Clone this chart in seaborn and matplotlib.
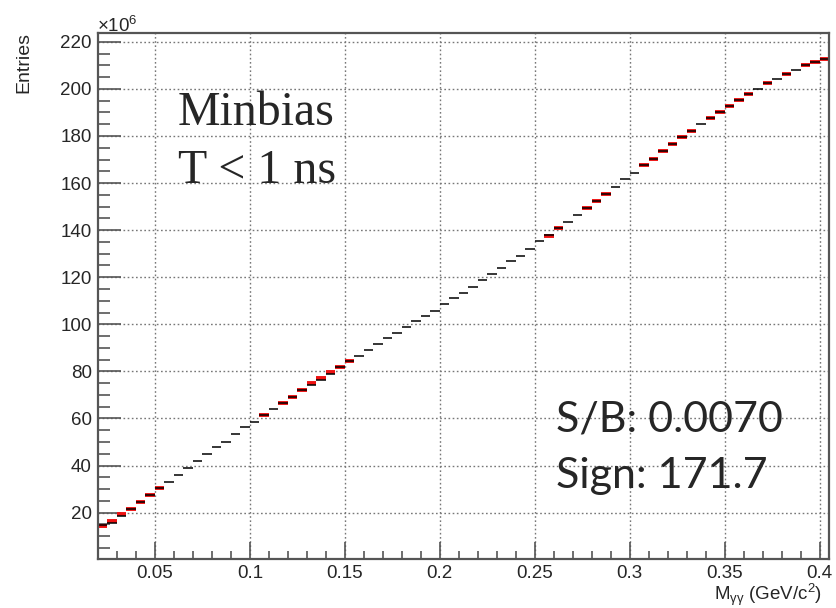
import numpy as np
import pandas as pd
import matplotlib
matplotlib.use("Agg")
import matplotlib.pyplot as plt
from matplotlib.ticker import MultipleLocator
import seaborn as sns

# ---------------- data (values in units of 10^6 entries) ----------------
bin_lo = 0.02
bin_hi = 0.405
n_bins = 77

black_vals = [14.9, 15.6, 18.5, 21.7, 24.7, 27.6, 30.4, 33.2, 36.1, 39.1,
              41.9, 44.9, 47.8, 50.2, 53.3, 56.2, 58.5, 61.4, 64.0, 66.6,
              69.2, 72.0, 74.1, 76.5, 79.0, 81.7, 84.3, 86.7, 89.2, 91.6,
              94.0, 96.5, 98.8, 101.2, 103.4, 105.8, 108.6, 111.2, 113.5, 116.0,
              119.0, 121.4, 123.8, 126.8, 129.2, 132.2, 135.2, 137.8, 140.8, 143.5,
              146.4, 149.5, 152.5, 155.4, 158.4, 161.6, 164.4, 167.5, 170.4, 173.5,
              176.4, 179.4, 182.3, 185.0, 187.5, 190.0, 192.9, 195.4, 197.7, 200.0,
              202.3, 204.2, 206.5, 208.2, 210.1, 211.3, 212.8]

red_bins = [0, 1, 2, 3, 4, 5, 6, 17, 19, 20, 21, 22, 23, 24, 25, 26, 47, 48,
            51, 52, 53, 57, 58, 59, 60, 61, 62, 64, 65, 66, 67, 68, 70, 72,
            74, 75, 76]
red_vals = [14.2, 16.6, 19.5, 21.7, 24.7, 27.6, 30.4, 61.4, 66.6, 69.2, 72.0,
            75.0, 77.4, 79.9, 81.7, 84.3, 137.6, 140.8, 149.5, 152.5, 155.4,
            167.5, 170.4, 173.5, 176.4, 179.4, 182.3, 187.5, 190.0, 192.9,
            195.4, 197.7, 202.3, 206.5, 210.1, 211.3, 212.8]

x_label = r"M$_{\mathregular{γγ}}$ (GeV/c$^{\mathregular{2}}$)"
y_label = "Entries"
exp_label = r"×10$^{\mathregular{6}}$"
text_left = ["Minbias", "T < 1 ns"]
text_right = ["S/B: 0.0070", "Sign: 171.7"]

edges = np.linspace(bin_lo, bin_hi, n_bins + 1)


def segments(bins, vals):
    rows = []
    for b, v in zip(bins, vals):
        rows.append((edges[b], v, b))
        rows.append((edges[b + 1], v, b))
    return pd.DataFrame(rows, columns=["x", "y", "bin"])


df_black = segments(range(n_bins), black_vals)
df_red = segments(red_bins, red_vals)

# ---------------- figure ----------------
sns.set_style("white")
plt.rcParams["font.family"] = ["Liberation Sans", "DejaVu Sans"]
plt.rcParams["mathtext.fontset"] = "custom"
plt.rcParams["mathtext.rm"] = "Liberation Sans"
plt.rcParams["mathtext.it"] = "Liberation Sans"

fig = plt.figure(figsize=(8.36, 6.08), dpi=100)
ax = fig.add_axes([98 / 836, 1 - 559.3 / 608, (829 - 98) / 836, (559.3 - 33.3) / 608])

sns.lineplot(data=df_red, x="x", y="y", units="bin", estimator=None,
             color="#ee1111", lw=2.8, ax=ax, legend=False, sort=True,
             solid_capstyle="butt")
sns.lineplot(data=df_black, x="x", y="y", units="bin", estimator=None,
             color="black", lw=1.1, ax=ax, legend=False, sort=True,
             solid_capstyle="butt")

ax.set_xlim(bin_lo, bin_hi)
ax.set_ylim(0.2, 223.6)

ax.xaxis.set_minor_locator(MultipleLocator(0.01))
ax.yaxis.set_minor_locator(MultipleLocator(5))

ax.set_xticks(np.arange(0.05, 0.401, 0.05))
ax.set_xticklabels(["0.05", "0.1", "0.15", "0.2", "0.25", "0.3", "0.35", "0.4"])
ax.set_yticks(np.arange(20, 221, 20))

tick_col = "#555555"
ax.tick_params(axis="y", which="major", direction="in", length=16.5, width=1.2,
               color=tick_col, labelsize=13.5, pad=4.5, left=True, right=False)
ax.tick_params(axis="y", which="minor", direction="in", length=8.6, width=1.2,
               color=tick_col, left=True, right=False)
ax.tick_params(axis="x", which="major", direction="in", length=12.2, width=1.2,
               color=tick_col, labelsize=13.5, pad=4, bottom=True, top=False)
ax.tick_params(axis="x", which="minor", direction="in", length=5.8, width=1.2,
               color=tick_col, bottom=True, top=False)

ax.grid(True, which="major", linestyle=(0, (1.2, 1.8)), color="#777777", lw=1.0)
ax.set_axisbelow(True)
for s in ax.spines.values():
    s.set_color("#555555")
    s.set_linewidth(1.6)

ax.set_xlabel("")
ax.set_ylabel("")

fig.text(24 / 836, 1 - 32 / 608, y_label, rotation=90, ha="center", va="top", fontsize=14)
fig.text(822 / 836, 1 - 599.5 / 608, x_label, ha="right", va="baseline", fontsize=13.5)
fig.text(97 / 836, 1 - 31.7 / 608, exp_label, ha="left", va="baseline", fontsize=13.5)

fig.text(178 / 836, 1 - 125 / 608, text_left[0], ha="left", va="baseline",
         fontsize=34.5, family=["Liberation Serif", "DejaVu Serif"])
fig.text(178 / 836, 1 - 182.7 / 608, text_left[1], ha="left", va="baseline",
         fontsize=34.5, family=["Liberation Serif", "DejaVu Serif"])
fig.text(556 / 836, 1 - 431 / 608, text_right[0], ha="left", va="baseline",
         fontsize=31, family=["Lato", "DejaVu Sans"])
fig.text(556 / 836, 1 - 488 / 608, text_right[1], ha="left", va="baseline",
         fontsize=31, family=["Lato", "DejaVu Sans"])

fig.savefig("out.png", dpi=100)
